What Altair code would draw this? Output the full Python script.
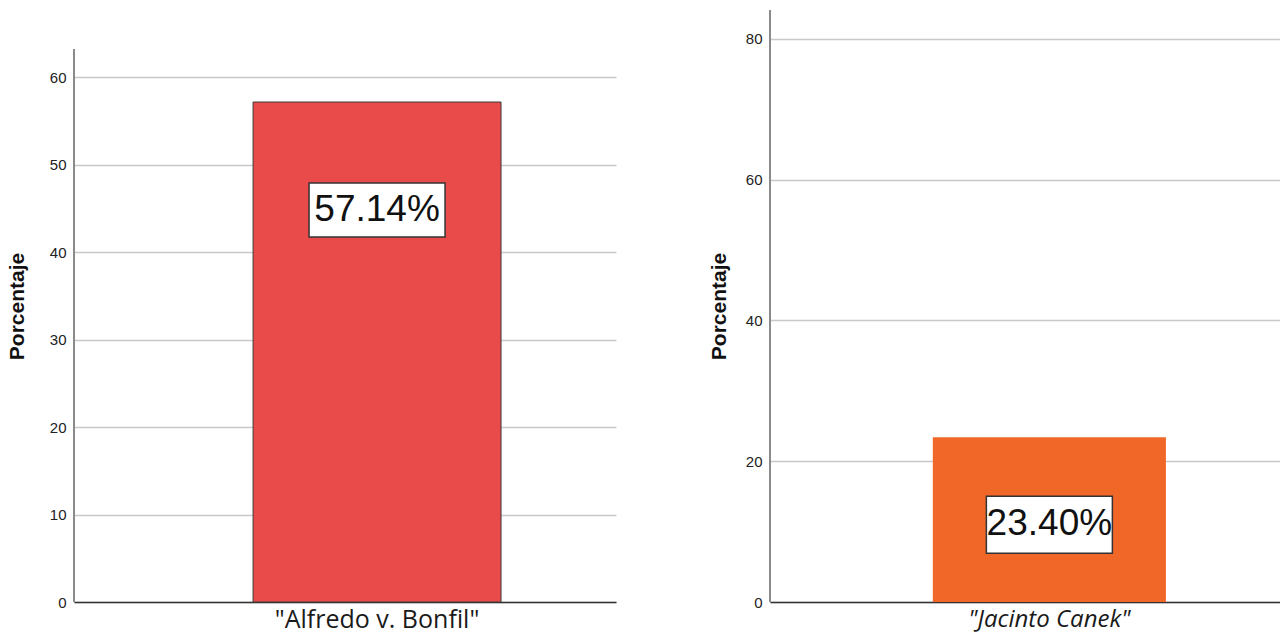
import altair as alt
import pandas as pd

# Left panel data
left_categories = ['"Alfredo v. Bonfil"']
left_values = [57.14]
left_labels = ["57.14%"]
left_ticks = [0, 10, 20, 30, 40, 50, 60]

# Right panel data
right_categories = ['"Jacinto Canek"']
right_values = [23.40]
right_labels = ["23.40%"]
right_ticks = [0, 20, 40, 60, 80]

FONT = "Liberation Sans"
LABEL_FONT = "Open Sans"


def panel(cats, vals, labels, ticks, ymax, axis_top, width, height, color,
          bar_stroke, band_align, pad_outer, box_w, box_top, box_bot, text_dy,
          italic, label_size, label_pad, title_pad):
    df = pd.DataFrame({"cat": cats, "val": vals, "lab": labels})
    base = alt.Chart(df)
    xenc = alt.X(
        "cat:N",
        title=None,
        scale=alt.Scale(paddingInner=0, paddingOuter=pad_outer, align=band_align),
        axis=alt.Axis(
            labelAngle=0, ticks=False, domainColor="#333333", domainWidth=1.5,
            labelFont=LABEL_FONT, labelFontSize=label_size, labelColor="#1a1a1a",
            labelPadding=label_pad, labelLimit=0, grid=False,
            labelFontStyle="italic" if italic else "normal",
        ),
    )
    yscale = alt.Scale(domain=[0, ymax], nice=False, zero=True)
    bars = base.mark_bar(
        color=color, stroke=bar_stroke if bar_stroke else color,
        strokeWidth=1 if bar_stroke else 0,
    ).encode(
        x=xenc,
        y=alt.Y(
            "val:Q", scale=yscale, title="Porcentaje",
            axis=alt.Axis(
                values=ticks, domain=False, ticks=False, grid=True,
                gridColor="#c8c8c8", gridWidth=1.5, labelFont=FONT,
                labelFontSize=15, labelColor="#222222", labelPadding=8,
                titleFont=FONT, titleFontSize=21, titleFontWeight="bold",
                titleColor="#111111", titlePadding=title_pad,
            ),
        ),
    )
    box = base.mark_bar(
        color="white", stroke="#333333", strokeWidth=1.5, width=box_w,
        yOffset=box_top, y2Offset=box_bot,
    ).encode(
        x=alt.X("cat:N"),
        y=alt.Y("val:Q"),
        y2=alt.Y2("val:Q"),
    )
    text = base.mark_text(
        font=FONT, fontSize=37, color="#111111", baseline="middle",
        align="center", dy=text_dy,
    ).encode(
        x=alt.X("cat:N"),
        y=alt.Y("val:Q"),
        text="lab:N",
    )
    axis_line = alt.Chart(pd.DataFrame({"a": [0], "b": [axis_top]})).mark_rule(
        color="#8a8a8a", strokeWidth=2
    ).encode(
        x=alt.value(0),
        y=alt.Y("a:Q"),
        y2=alt.Y2("b:Q"),
    )
    return alt.layer(bars, box, text, axis_line).properties(width=width, height=height)


left = panel(left_categories, left_values, left_labels, left_ticks,
             ymax=592 / 8.75, axis_top=63.2, width=542, height=592,
             color="#E94B4B", bar_stroke="#3a3a3a", band_align=0.609,
             pad_outer=0.593, box_w=136, box_top=81, box_bot=135, text_dy=108,
             italic=False, label_size=25, label_pad=5, title_pad=22)
right = panel(right_categories, right_values, right_labels, right_ticks,
              ymax=84.1, axis_top=84.1, width=510, height=592,
              color="#F06728", bar_stroke=None, band_align=0.588,
              pad_outer=0.594, box_w=126, box_top=59, box_bot=116, text_dy=87,
              italic=True, label_size=24, label_pad=5, title_pad=16)

chart = alt.hconcat(left, right, spacing=92).properties(
    padding={"left": 6, "top": 9, "right": 0, "bottom": 0},
    background="white",
).configure_view(strokeWidth=0, stroke="transparent")

chart.save("out.html", embed_options={"renderer": "svg", "actions": False})
